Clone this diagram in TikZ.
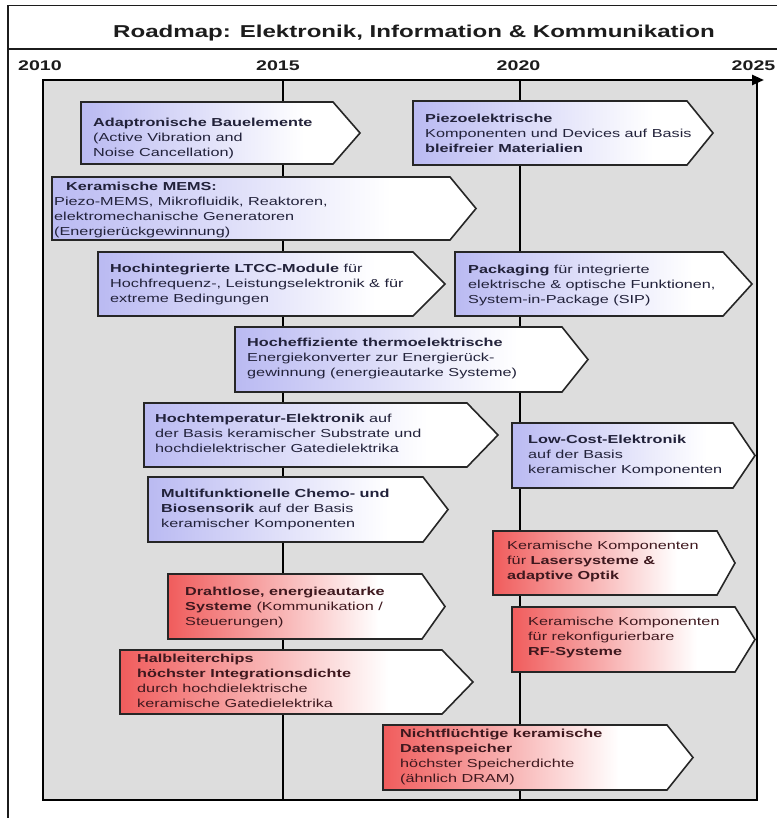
\documentclass[tikz,border=0pt]{standalone}
\usepackage{fontspec}
\setmainfont{Liberation Sans}[FakeStretch=1.4]
\usetikzlibrary{arrows.meta}

\definecolor{panel}{RGB}{221,221,221}
\definecolor{bluefill}{RGB}{186,186,242}
\definecolor{redfill}{RGB}{240,92,92}
\definecolor{boxline}{RGB}{38,38,38}
\definecolor{bluetext}{RGB}{34,34,58}
\definecolor{redtext}{RGB}{62,24,30}
\definecolor{ink}{RGB}{28,28,28}

% left-to-right fades (25bp..75bp spans the filled path)
\pgfdeclarehorizontalshading{bluefade}{100bp}{color(0bp)=(bluefill); color(25bp)=(bluefill); color(65bp)=(white); color(100bp)=(white)}
\pgfdeclarehorizontalshading{redfade}{100bp}{color(0bp)=(redfill); color(25bp)=(redfill); color(63bp)=(white); color(100bp)=(white)}

% arrow-shaped topic box: shading, x1, y1, x2, y2, tip x
\newcommand{\roadarrow}[6]{%
  \shadedraw[shading=#1, draw=boxline, line width=1.6pt, line join=miter]
    (#2,#3) -- (#4,#3) -- (#6,{(#3+#5)/2}) -- (#4,#5) -- (#2,#5) -- cycle;}
% fixed height for the first text line
\newcommand{\fl}{\rule{0pt}{11pt}}

\tikzset{
  lbl/.style={anchor=north west, inner sep=0pt, align=left,
              font=\fontsize{11.6}{15}\selectfont},
  bluelbl/.style={lbl, text=bluetext},
  redlbl/.style={lbl, text=redtext},
  yearlbl/.style={anchor=base, inner sep=0pt, text=ink,
                  font=\fontsize{14}{16}\selectfont\bfseries},
  frame/.style={draw=ink, line width=1.4pt},
  timeline/.style={draw=black, line width=2.5pt},
}

\begin{document}
\begin{tikzpicture}[x=1pt, y=-1pt]
\useasboundingbox (0,0) rectangle (776,818);
\fill[white] (0,0) rectangle (776,818);

% outer frame and title row
\coordinate (ftl) at (8,5.5);
\coordinate (ftr) at (780,5.5);
\coordinate (fbl) at (8,820);
\coordinate (sepl) at (8,49);
\coordinate (sepr) at (780,49);
\draw[frame] (ftr) -- (ftl) -- (fbl);
\draw[frame] (sepl) -- (sepr);
\node[anchor=base, inner sep=0pt, text=ink, font=\fontsize{17.2}{20}\selectfont\bfseries]
  (title) at (414,37.5) {Roadmap: Elektronik, Information \& Kommunikation};

% years
\node[yearlbl] (y2010) at (40,71) {2010};
\node[yearlbl] (y2015) at (278,71) {2015};
\node[yearlbl] (y2020) at (518.5,71) {2020};
\node[yearlbl, anchor=base east] (y2025) at (775.5,71) {2025};

% time panel
\coordinate (ptl) at (43,80);
\coordinate (pbr) at (757,800);
\coordinate (axend) at (764,80);
\coordinate (t15top) at (283,80);
\coordinate (t15bot) at (283,800);
\coordinate (t20top) at (520,80);
\coordinate (t20bot) at (520,800);
\filldraw[fill=panel, draw=black, line width=2pt] (ptl) rectangle (pbr);
\draw[timeline] (t15top) -- (t15bot);
\draw[timeline] (t20top) -- (t20bot);
\draw[timeline, -{Triangle[length=12pt, width=10pt]}] (ptl) -- (axend);

% topics (blue)
\roadarrow{bluefade}{81}{102}{333}{164}{360}
\node[bluelbl] (adapt) at (93,115) {\fl\textbf{Adaptronische Bauelemente}\\(Active Vibration and\\Noise Cancellation)};

\roadarrow{bluefade}{413}{101}{687}{165}{713}
\node[bluelbl] (piezo) at (425,111) {\fl\textbf{Piezoelektrische}\\Komponenten und Devices auf Basis\\\textbf{bleifreier Materialien}};

\roadarrow{bluefade}{52}{177}{450}{240}{476}
\node[bluelbl] (mems) at (54,179) {\fl\hspace*{12pt}\textbf{Keramische MEMS:}\\Piezo-MEMS, Mikrofluidik, Reaktoren,\\elektromechanische Generatoren\\(Energierückgewinnung)};

\roadarrow{bluefade}{98}{252}{413}{316}{445}
\node[bluelbl] (ltcc) at (110,261) {\fl\textbf{Hochintegrierte LTCC-Module} für\\Hochfrequenz-, Leistungselektronik \& für\\extreme Bedingungen};

\roadarrow{bluefade}{455}{252}{723}{316}{752}
\node[bluelbl] (pack) at (468,262) {\fl\textbf{Packaging} für integrierte\\elektrische \& optische Funktionen,\\System-in-Package (SIP)};

\roadarrow{bluefade}{235}{327}{562}{392}{588}
\node[bluelbl] (thermo) at (247,335) {\fl\textbf{Hocheffiziente thermoelektrische}\\Energiekonverter zur Energierück-\\gewinnung (energieautarke Systeme)};

\roadarrow{bluefade}{144}{403}{467}{467}{498}
\node[bluelbl] (htemp) at (155,411) {\fl\textbf{Hochtemperatur-Elektronik} auf\\der Basis keramischer Substrate und\\hochdielektrischer Gatedielektrika};

\roadarrow{bluefade}{148}{477}{423}{542}{448}
\node[bluelbl] (chemo) at (161,486) {\fl\textbf{Multifunktionelle Chemo- und}\\\textbf{Biosensorik} auf der Basis\\keramischer Komponenten};

\roadarrow{bluefade}{512}{423}{733}{488}{755}
\node[bluelbl] (lowcost) at (528,432) {\fl\textbf{Low-Cost-Elektronik}\\auf der Basis\\keramischer Komponenten};

% topics (red)
\roadarrow{redfade}{493}{531}{717}{595}{735}
\node[redlbl] (laser) at (507,538) {\fl Keramische Komponenten\\für \textbf{Lasersysteme \&}\\\textbf{adaptive Optik}};

\roadarrow{redfade}{512}{607}{735}{672}{755}
\node[redlbl] (rf) at (528,614) {\fl Keramische Komponenten\\für rekonfigurierbare\\\textbf{RF-Systeme}};

\roadarrow{redfade}{168}{574}{422}{639}{445}
\node[redlbl] (wireless) at (185,584) {\fl\textbf{Drahtlose, energieautarke}\\\textbf{Systeme} (Kommunikation /\\Steuerungen)};

\roadarrow{redfade}{120}{650}{442}{714}{473}
\node[redlbl] (chips) at (137,651) {\fl\textbf{Halbleiterchips}\\\textbf{höchster Integrationsdichte}\\durch hochdielektrische\\keramische Gatedielektrika};

\roadarrow{redfade}{383}{725}{667}{790}{693}
\node[redlbl] (nvram) at (400,726) {\fl\textbf{Nichtflüchtige keramische}\\\textbf{Datenspeicher}\\höchster Speicherdichte\\(ähnlich DRAM)};
\end{tikzpicture}
\end{document}
